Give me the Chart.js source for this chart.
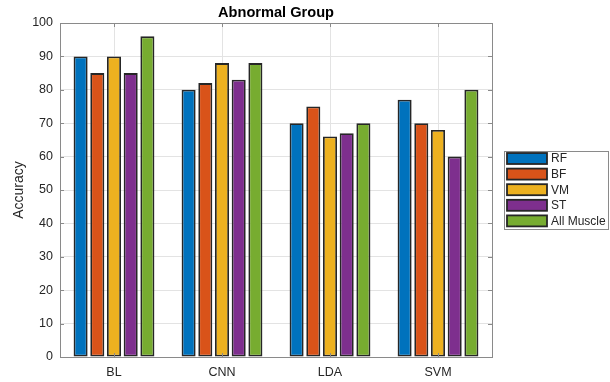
<!DOCTYPE html>
<html>
<head>
<meta charset="utf-8">
<script src="https://cdn.jsdelivr.net/npm/chart.js@4"></script>
<style>
  html, body { margin: 0; padding: 0; background: #fff; }
  #wrap { width: 610px; height: 382px; }
</style>
</head>
<body>
<div id="wrap"><canvas id="c" width="610" height="382"></canvas></div>
<script>
// Classifiers on the x axis
const categories = ['BL', 'CNN', 'LDA', 'SVM'];

// Accuracy (%) per muscle for each classifier
const rfValues = [90, 80, 70, 77];
const bfValues = [85, 82, 75, 70];
const vmValues = [90, 88, 66, 68];
const stValues = [85, 83, 67, 60];
const allMuscleValues = [96, 88, 70, 80];

const seriesNames = ['RF', 'BF', 'VM', 'ST', 'All Muscle'];
const seriesColors = ['#0072BD', '#D95319', '#EDB120', '#7E2F8E', '#77AC30'];
const yTicks = [0, 10, 20, 30, 40, 50, 60, 70, 80, 90, 100];

const chartTitle = 'Abnormal Group';
const yLabel = 'Accuracy';

const FONT = '"Liberation Sans", Arial, Helvetica, sans-serif';
const TEXT = '#262626';
const FRAME = '#8a8a8a';

const seriesValues = [rfValues, bfValues, vmValues, stValues, allMuscleValues];
const datasets = seriesNames.map((name, i) => ({
  label: name,
  data: seriesValues[i],
  backgroundColor: seriesColors[i],
  borderColor: '#262626',
  borderWidth: 1.8,
  borderSkipped: false,
  categoryPercentage: 0.773,
  barPercentage: 0.84
}));

// Box frame, inward tick marks, title and boxed legend in MATLAB style
const decorations = {
  id: 'decorations',
  afterDraw(chart) {
    const { ctx, chartArea: a } = chart;
    const xs = chart.scales.x, ys = chart.scales.y;
    ctx.save();
    // frame
    ctx.strokeStyle = FRAME;
    ctx.lineWidth = 1;
    ctx.strokeRect(Math.round(a.left) + 0.5, Math.round(a.top) + 0.5,
                   Math.round(a.right - a.left), Math.round(a.bottom - a.top));
    // tick marks
    const tl = 4;
    ctx.beginPath();
    yTicks.forEach(v => {
      const y = Math.round(ys.getPixelForValue(v)) + 0.5;
      ctx.moveTo(a.left, y); ctx.lineTo(a.left + tl, y);
      ctx.moveTo(a.right, y); ctx.lineTo(a.right - tl, y);
    });
    categories.forEach((c, i) => {
      const x = Math.round(xs.getPixelForValue(i)) + 0.5;
      ctx.moveTo(x, a.bottom); ctx.lineTo(x, a.bottom - tl);
      ctx.moveTo(x, a.top); ctx.lineTo(x, a.top + tl);
    });
    ctx.stroke();

    // title
    ctx.fillStyle = '#000';
    ctx.font = 'bold 14.6px ' + FONT;
    ctx.textAlign = 'center';
    ctx.textBaseline = 'middle';
    ctx.fillText(chartTitle, (a.left + a.right) / 2, 13);

    // legend
    const lx = 504, ly = 151, lw = 104, lh = 78;
    ctx.fillStyle = '#fff';
    ctx.fillRect(lx, ly, lw, lh);
    ctx.strokeStyle = FRAME;
    ctx.strokeRect(lx + 0.5, ly + 0.5, lw, lh);
    ctx.font = '12px ' + FONT;
    ctx.textAlign = 'left';
    chart.data.datasets.forEach((ds, i) => {
      const cy = 158.5 + i * 15.6;
      ctx.fillStyle = ds.backgroundColor;
      ctx.fillRect(507, cy - 5.5, 40, 11);
      ctx.strokeStyle = '#262626';
      ctx.lineWidth = 1.8;
      ctx.strokeRect(507, cy - 5.5, 40, 11);
      ctx.fillStyle = TEXT;
      ctx.fillText(ds.label, 551, cy + 0.5);
    });
    ctx.restore();
  }
};

new Chart(document.getElementById('c'), {
  type: 'bar',
  data: { labels: categories, datasets },
  options: {
    responsive: false,
    animation: false,
    layout: { padding: { left: 0, right: 118, top: 23, bottom: 0 } },
    plugins: {
      legend: { display: false },
      title: { display: false },
      tooltip: { enabled: false }
    },
    scales: {
      x: {
        offset: true,
        grid: { offset: false, color: '#e3e3e3', drawTicks: false },
        border: { display: false },
        ticks: { color: TEXT, font: { family: FONT, size: 12.5 }, padding: 8 },
        afterFit(s) { s.height = 25; }
      },
      y: {
        min: 0, max: 100,
        afterBuildTicks(s) { s.ticks = yTicks.map(v => ({ value: v })); },
        grid: { color: '#e3e3e3', drawTicks: false },
        border: { display: false },
        ticks: { color: TEXT, font: { family: FONT, size: 12.5 }, padding: 7 },
        title: { display: true, text: yLabel, color: TEXT,
                 font: { family: FONT, size: 14 }, padding: { top: 11, bottom: 0 } },
        afterFit(s) { s.width = 60; }
      }
    }
  },
  plugins: [decorations]
});
</script>
</body>
</html>
